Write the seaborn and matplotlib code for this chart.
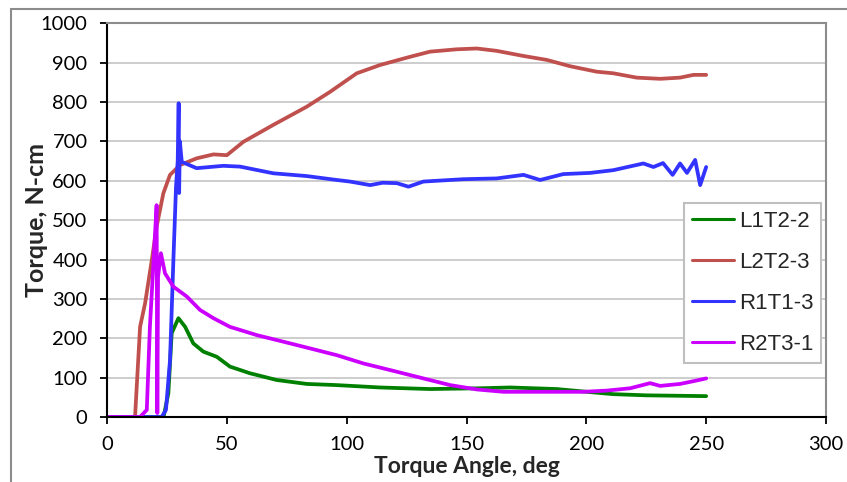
import matplotlib
matplotlib.use("Agg")
import matplotlib.pyplot as plt
import seaborn as sns
import pandas as pd
from matplotlib.patches import Rectangle

# ---- data ----
series_names = ["L1T2-2", "L2T2-3", "R1T1-3", "R2T3-1"]
series_colors = ["#008000", "#C0504D", "#3333FF", "#CC00FF"]

green_x = [0, 23.6, 25.6, 27.0, 29.8, 32.6, 36.0, 40.2, 45.8, 51.3, 59.7, 70.8, 83.3, 95.9,
           113.9, 134.8, 155.7, 168.2, 187.7, 200.2, 211.3, 225.2, 250]
green_y = [0, 0, 60, 213, 251, 229, 187, 166, 153, 128, 111, 94, 84, 81,
           75, 71, 73, 75, 71, 64, 58, 55, 53]

red_x = [0, 11.7, 13.8, 15.9, 18.7, 20.7, 23.5, 26.3, 30.5, 37.4, 44.4, 50.0, 56.9, 69.4,
         83.3, 93.1, 104.2, 113.9, 126.5, 134.8, 146.0, 154.3, 162.6, 173.8, 183.5, 193.2,
         204.4, 211.3, 221.0, 230.8, 239.1, 244.7, 250]
red_y = [0, 0, 229, 289, 399, 483, 568, 615, 640, 657, 667, 665, 699, 742,
         788, 826, 873, 894, 915, 928, 934, 936, 930, 917, 907, 891,
         877, 873, 862, 859, 862, 869, 869]

blue_x = [0, 22.8, 24.6, 26.3, 27.7, 28.8, 29.5, 29.9, 30.1, 30.4, 31.2, 37.4, 48.5, 55.5,
          69.4, 83.3, 95.9, 101.4, 109.8, 115.0, 120.9, 125.8, 132.0, 148.7, 162.6, 173.8,
          180.7, 190.4, 201.6, 211.3, 223.8, 228.0, 232.0, 236.0, 239.1, 242.0, 245.4,
          247.5, 250]
blue_y = [0, 0, 18, 145, 399, 585, 650, 797, 569, 700, 648, 632, 638, 636,
          619, 612, 602, 598, 589, 595, 594, 585, 598, 604, 606, 615,
          602, 617, 620, 627, 644, 635, 645, 615, 644, 620, 653,
          589, 635]

magenta_x = [0, 13.8, 16.6, 17.9, 19.3, 20.7, 21.0, 21.3, 22.5, 24.2, 27.7, 33.3, 38.8, 44.4,
             51.3, 62.5, 76.4, 95.9, 107.0, 120.9, 132.0, 143.2, 154.3, 165.4, 182.1, 198.8,
             208.5, 218.3, 226.6, 230.8, 239.1, 244.7, 250]
magenta_y = [0, 0, 18, 229, 382, 538, 10, 356, 416, 365, 331, 306, 272, 251,
             229, 208, 187, 157, 136, 115, 98, 81, 70, 64, 64, 64,
             67, 73, 86, 79, 84, 91, 98]

x_ticks = [0, 50, 100, 150, 200, 250, 300]
y_ticks = [0, 100, 200, 300, 400, 500, 600, 700, 800, 900, 1000]

# ---- build long table ----
frames = []
for name, xs, ys in zip(series_names,
                        [green_x, red_x, blue_x, magenta_x],
                        [green_y, red_y, blue_y, magenta_y]):
    frames.append(pd.DataFrame({"angle": xs, "torque": ys, "series": name}))
df = pd.concat(frames, ignore_index=True)

sns.set_style("white")
plt.rcParams["font.family"] = ["Lato", "DejaVu Sans"]

fig = plt.figure(figsize=(8.47, 4.82), dpi=100)
ax = fig.add_axes([107 / 847, 1 - 417 / 482, (826 - 107) / 847, (417 - 23.3) / 482])

sns.lineplot(data=df, x="angle", y="torque", hue="series", hue_order=series_names,
             palette=dict(zip(series_names, series_colors)), estimator=None, sort=False,
             linewidth=2.7, ax=ax, legend=True)

ax.set_xlim(0, 300)
ax.set_ylim(0, 1000)
ax.set_xticks(x_ticks)
ax.set_yticks(y_ticks)
ax.tick_params(axis="both", labelsize=14.5, colors="black", length=5, width=1.3,
               direction="out", pad=9)
ax.tick_params(axis="x", bottom=True, pad=9)
ax.tick_params(axis="y", left=True)
ax.grid(axis="y", color="#c0c0c0", linewidth=1.1)
ax.grid(axis="x", visible=False)
ax.set_axisbelow(True)

for s in ["left", "bottom"]:
    ax.spines[s].set_color("black")
    ax.spines[s].set_linewidth(1.5)
for s in ["top", "right"]:
    ax.spines[s].set_color("#8c8c8c")
    ax.spines[s].set_linewidth(1.5)

ax.set_xlabel("Torque Angle, deg", fontsize=16.5, fontweight="bold", labelpad=2)
ax.set_ylabel("Torque, N-cm", fontsize=18, fontweight="bold", labelpad=-5)

handles, labels = ax.get_legend_handles_labels()
for h in handles:
    h.set_linewidth(2.2)
leg = ax.legend(handles, labels, loc="upper right", bbox_to_anchor=(0.993, 0.5436),
                frameon=True, fancybox=False, edgecolor="#bfbfbf", framealpha=1,
                handlelength=1.9, handletextpad=0.2, labelspacing=0.9, borderpad=0.35,
                borderaxespad=0.0,
                prop={"family": ["Liberation Sans", "DejaVu Sans"], "size": 16})
leg.get_frame().set_linewidth(1.5)

fig.patches.append(Rectangle((11 / 847, -0.1), 1.2, (482 - 9) / 482 + 0.1,
                             transform=fig.transFigure, fill=False,
                             edgecolor="#8c8c8c", linewidth=1.5))

fig.savefig("out.png", dpi=100)
